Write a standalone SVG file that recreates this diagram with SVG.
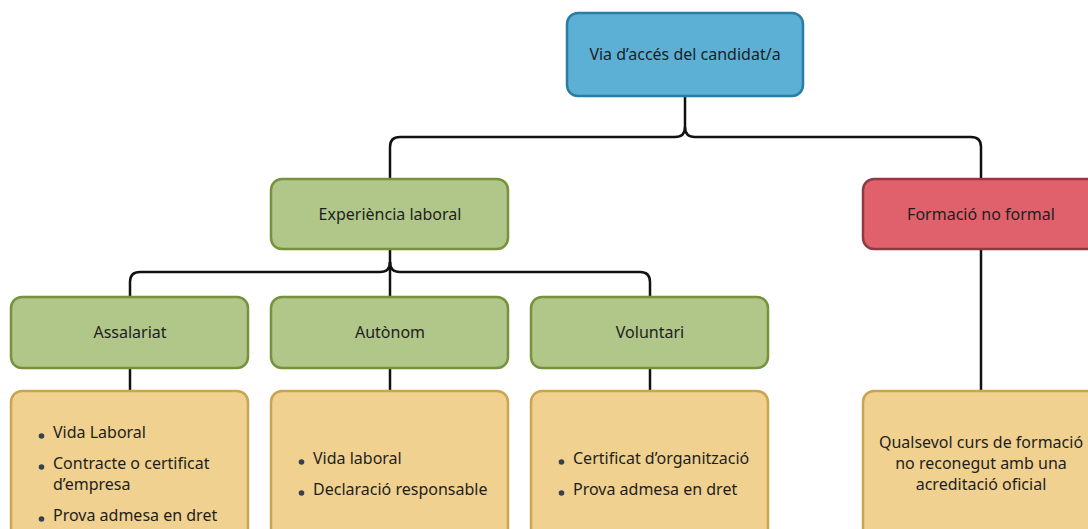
<svg xmlns="http://www.w3.org/2000/svg" width="1088" height="529" viewBox="0 0 1088 529">
<style>
text{font-family:"Noto Sans","Open Sans",sans-serif;font-size:16px;fill:#1e1e1e}
.c{text-anchor:middle}
.blue{fill:#5cb0d6;stroke:#2b7ca3;stroke-width:2.5}
.green{fill:#b1c689;stroke:#76923b;stroke-width:2.5}
.red{fill:#e0616c;stroke:#8e3a43;stroke-width:2.5}
.yel{fill:#f0d18f;stroke:#c9a552;stroke-width:2.5}
.ln{fill:none;stroke:#111;stroke-width:2.5}
.dot{fill:#34414f}
</style>
<g id="connectors">
<path class="ln" d="M685,96 V127 Q685,137 675,137 H400 Q390,137 390,147 V179"/>
<path class="ln" d="M685,127 Q685,137 695,137 H971 Q981,137 981,147 V179"/>
<path class="ln" d="M390,249 V262 Q390,272 380,272 H140 Q130,272 130,282 V297"/>
<path class="ln" d="M390,262 Q390,272 400,272 H640 Q650,272 650,282 V297"/>
<path class="ln" d="M390,262 V297"/>
<path class="ln" d="M130,368 V391"/>
<path class="ln" d="M390,368 V391"/>
<path class="ln" d="M650,368 V391"/>
<path class="ln" d="M981,249 V391"/>
</g>
<g id="n-via"><rect class="blue" x="567" y="13" width="236" height="83" rx="11"/><text class="c" x="685" y="60">Via d’accés del candidat/a</text></g>
<g id="n-exp"><rect class="green" x="271" y="179" width="237" height="70" rx="11"/><text class="c" x="390" y="220">Experiència laboral</text></g>
<g id="n-form"><rect class="red" x="863" y="179" width="237" height="70" rx="11"/><text class="c" x="981" y="220">Formació no formal</text></g>
<g id="n-ass"><rect class="green" x="11" y="297" width="237" height="71" rx="11"/><text class="c" x="130" y="338">Assalariat</text></g>
<g id="n-aut"><rect class="green" x="271" y="297" width="237" height="71" rx="11"/><text class="c" x="390" y="338">Autònom</text></g>
<g id="n-vol"><rect class="green" x="531" y="297" width="237" height="71" rx="11"/><text class="c" x="650" y="338">Voluntari</text></g>
<g id="n-ass-d"><rect class="yel" x="11" y="391" width="237" height="150" rx="11"/>
<circle class="dot" cx="41.5" cy="436" r="2.8"/><text x="53" y="438">Vida Laboral</text>
<circle class="dot" cx="41.5" cy="467" r="2.8"/><text x="53" y="469">Contracte o certificat</text><text x="53" y="490">d’empresa</text>
<circle class="dot" cx="41.5" cy="519" r="2.8"/><text x="53" y="521">Prova admesa en dret</text></g>
<g id="n-aut-d"><rect class="yel" x="271" y="391" width="237" height="150" rx="11"/>
<circle class="dot" cx="301.5" cy="462" r="2.8"/><text x="313" y="464">Vida laboral</text>
<circle class="dot" cx="301.5" cy="493" r="2.8"/><text x="313" y="495">Declaració responsable</text></g>
<g id="n-vol-d"><rect class="yel" x="531" y="391" width="237" height="150" rx="11"/>
<circle class="dot" cx="561.5" cy="462" r="2.8"/><text x="573" y="464">Certificat d’organització</text>
<circle class="dot" cx="561.5" cy="493" r="2.8"/><text x="573" y="495">Prova admesa en dret</text></g>
<g id="n-form-d"><rect class="yel" x="863" y="391" width="237" height="150" rx="11"/>
<text class="c" x="981" y="448">Qualsevol curs de formació</text>
<text class="c" x="981" y="469">no reconegut amb una</text>
<text class="c" x="981" y="490">acreditació oficial</text></g>
</svg>
